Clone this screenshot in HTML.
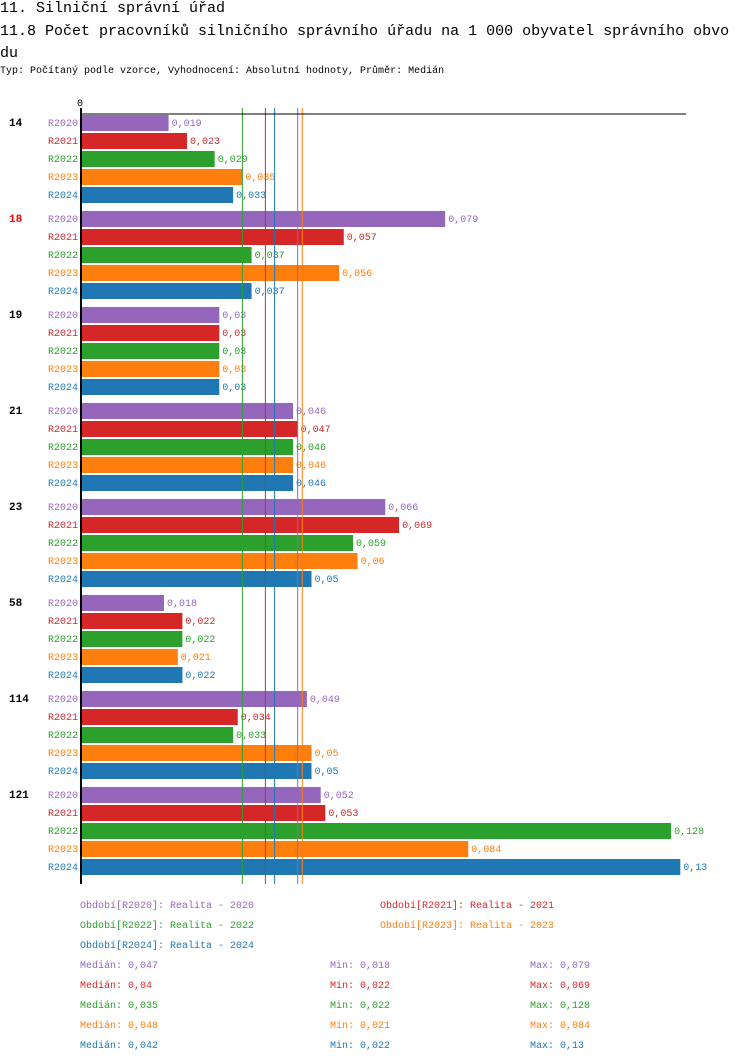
<!DOCTYPE html>
<html><head><meta charset="utf-8"><style>
body{margin:0;background:#fff;width:750px;height:1062px;overflow:hidden;font-family:"Liberation Mono",monospace}
.t{position:absolute;left:0;white-space:nowrap;color:#000}
</style></head><body>
<div class="t" style="top:0px;font-size:15px;line-height:18px">11. Silniční správní úřad</div>
<div class="t" style="top:21px;font-size:15px;line-height:22px;width:733px;white-space:normal;word-break:break-all">11.8 Počet pracovníků silničního správního úřadu na 1 000 obyvatel správního obvodu</div>
<div class="t" style="top:66px;font-size:10px">Typ: Počítaný podle vzorce, Vyhodnocení: Absolutní hodnoty, Průměr: Medián</div>
<svg id="ch" width="750" height="1062" style="position:absolute;left:0;top:0" font-family="Liberation Mono, monospace"></svg>
<script>
const groups=["14","18","19","21","23","58","114","121"];
const series=["R2020","R2021","R2022","R2023","R2024"];
const colors=["#9467bd","#d62728","#2ca02c","#ff7f0e","#1f77b4"];
const v2020=[0.019,0.079,0.03,0.046,0.066,0.018,0.049,0.052];
const v2021=[0.023,0.057,0.03,0.047,0.069,0.022,0.034,0.053];
const v2022=[0.029,0.037,0.03,0.046,0.059,0.022,0.033,0.128];
const v2023=[0.035,0.056,0.03,0.046,0.06,0.021,0.05,0.084];
const v2024=[0.033,0.037,0.03,0.046,0.05,0.022,0.05,0.13];
const medians=[0.047,0.04,0.035,0.048,0.042];
const mins=[0.018,0.022,0.022,0.021,0.022];
const maxs=[0.079,0.069,0.128,0.084,0.13];
const legendNames=["Realita - 2020","Realita - 2021","Realita - 2022","Realita - 2023","Realita - 2024"];
const vals=[v2020,v2021,v2022,v2023,v2024];
const svg=document.getElementById('ch');const NS='http://www.w3.org/2000/svg';
const X0=81,K=4610,TOP=115,GP=96,BP=18,BH=16;
const x=v=>X0+v*K;
const fmt=v=>String(v).replace('.',',');
function mk(t,a,txt){const e=document.createElementNS(NS,t);for(const k in a)e.setAttribute(k,a[k]);if(txt!==undefined)e.textContent=txt;svg.appendChild(e);return e;}
groups.forEach((g,gi)=>{
 const gl=mk('text',{x:9,y:TOP+gi*GP+11,'font-size':11,'font-weight':'bold',fill:gi==1?'#ff0000':'#000'},g);
 
 
 series.forEach((s,si)=>{
  const y=TOP+gi*GP+si*BP,v=vals[si][gi];
  const l=mk('text',{x:78,y:y+11,'font-size':10,'text-anchor':'end',fill:colors[si]},s);
  
  
  const r=mk('rect',{x:X0+1,y:y,width:x(v)-X0-1,height:BH,fill:colors[si]});
  
  
  const t=mk('text',{x:x(v)+3,y:y+11,'font-size':10,fill:colors[si]},fmt(v));
  
  
 });
});
medians.forEach((m,i)=>{
 const ln=mk('line',{x1:x(m),x2:x(m),y1:108,y2:884,stroke:colors[i],'stroke-width':1});
 
 
});
const ax=mk('line',{x1:80,x2:686,y1:114,y2:114,stroke:'#000','stroke-width':1});


const ay=mk('line',{x1:81,x2:81,y1:108,y2:884,stroke:'#000','stroke-width':2});


const z=mk('text',{x:77,y:106,'font-size':10,fill:'#000'},'0');


const lp=[[80,908],[380,908],[80,928],[380,928],[80,948]];
series.forEach((s,i)=>{
 const t=mk('text',{x:lp[i][0],y:lp[i][1],'font-size':10,fill:colors[i]},'Období['+s+']: '+legendNames[i]);
 
 
 const y=968+i*20;
 const a=mk('text',{x:80,y:y,'font-size':10,fill:colors[i]},'Medián: '+fmt(medians[i]));
 
 
 const b=mk('text',{x:330,y:y,'font-size':10,fill:colors[i]},'Min: '+fmt(mins[i]));
 
 
 const c=mk('text',{x:530,y:y,'font-size':10,fill:colors[i]},'Max: '+fmt(maxs[i]));
 
 
});
</script>
</body></html>
